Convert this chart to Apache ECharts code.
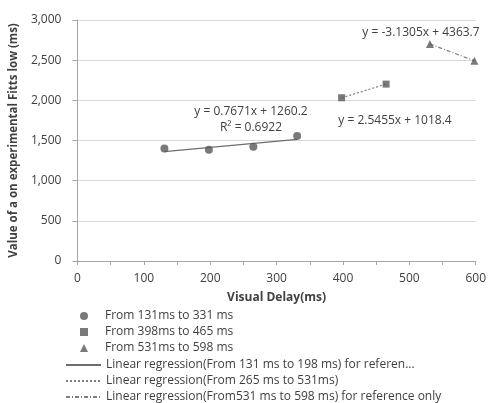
<!DOCTYPE html>
<html><head><meta charset="utf-8">
<script src="https://cdn.jsdelivr.net/npm/echarts@6/dist/echarts.min.js"></script>
<style>html,body{margin:0;padding:0;background:#fff}#c{width:489px;height:403px}</style>
</head><body><div id="c"></div>
<script>
// Data
const circlesX = [131, 198, 265, 331];
const circlesY = [1400, 1385, 1423, 1556];
const squaresX = [398, 465];
const squaresY = [2032, 2202];
const trianglesX = [531, 598];
const trianglesY = [2701, 2492];
// regression line end points
const reg1X = [131, 331];
const reg1Y = [1360.7, 1514.1];
const reg2X = [398, 465];
const reg2Y = [2031.5, 2202.1];
const reg3X = [531, 598];
const reg3Y = [2701.4, 2491.7];
const seriesNames = [
  'From 131ms to 331 ms',
  'From 398ms to 465 ms',
  'From 531ms to 598 ms',
  'Linear regression(From 131 ms to 198 ms) for referen...',
  'Linear regression(From 265 ms to 531ms)',
  'Linear regression(From531 ms to 598 ms) for reference only'
];
const eqTexts = ['y = 0.7671x + 1260.2', 'R² = 0.6922', 'y = 2.5455x + 1018.4', 'y = -3.1305x + 4363.7'];

const zip = (xs, ys) => xs.map((x, i) => [x, ys[i]]);
const FONT = 'Open Sans';
const TXT = '#404040';
const MARK = '#595959';

const chart = echarts.init(document.getElementById('c'));
chart.setOption({
  animation: false,
  textStyle: { fontFamily: FONT },
  grid: { left: 77, right: 9, top: 20, bottom: 142 },
  xAxis: {
    type: 'value', min: 0, max: 600, interval: 100,
    name: 'Visual Delay(ms)', nameLocation: 'middle', nameGap: 31,
    nameTextStyle: { fontFamily: FONT, fontWeight: 'bold', fontSize: 12, color: TXT },
    axisLine: { show: true, lineStyle: { color: '#a6a6a6' } },
    axisTick: { show: true, length: 4, lineStyle: { color: '#a6a6a6' } },
    minorTick: { show: true, splitNumber: 2, length: 4, lineStyle: { color: '#a6a6a6' } },
    axisLabel: { fontFamily: FONT, fontSize: 12, color: TXT, margin: 12 },
    splitLine: { show: false }
  },
  yAxis: {
    type: 'value', min: 0, max: 3000, interval: 500,
    name: 'Value of a on experimental Fitts low (ms)', nameLocation: 'middle', nameGap: 56,
    nameTextStyle: { fontFamily: FONT, fontWeight: 'bold', fontSize: 11.5, color: TXT },
    axisLine: { show: true, lineStyle: { color: '#a6a6a6' } },
    axisTick: { show: true, length: 5, lineStyle: { color: '#a6a6a6' } },
    axisLabel: { fontFamily: FONT, fontSize: 12, color: TXT, margin: 16,
      formatter: v => v.toLocaleString('en-US') },
    splitLine: { show: true, lineStyle: { color: '#d9d9d9' } }
  },
  legend: [
    {
      orient: 'vertical', left: 80, top: 310, padding: 0,
      itemWidth: 8, itemHeight: 8, itemGap: 4,
      textStyle: { fontFamily: FONT, fontSize: 12, color: TXT, padding: [0, 0, 0, 12] },
      data: seriesNames.slice(0, 3)
    },
    {
      orient: 'vertical', left: 65, top: 359, padding: 0, height: 50,
      itemWidth: 35, itemHeight: 8, itemGap: 4,
      itemStyle: { opacity: 0, borderWidth: 0 },
      textStyle: { fontFamily: FONT, fontSize: 12, color: TXT },
      data: seriesNames.slice(3)
    }
  ],
  series: [
    { name: seriesNames[0], type: 'scatter', symbol: 'circle', symbolSize: 8,
      itemStyle: { color: MARK }, data: zip(circlesX, circlesY), z: 5 },
    { name: seriesNames[1], type: 'scatter', symbol: 'rect', symbolSize: 7,
      itemStyle: { color: MARK }, data: zip(squaresX, squaresY), z: 5 },
    { name: seriesNames[2], type: 'scatter', symbol: 'triangle', symbolSize: 8,
      itemStyle: { color: MARK }, data: zip(trianglesX, trianglesY), z: 5 },
    { name: seriesNames[3], type: 'line', symbol: 'none', data: zip(reg1X, reg1Y),
      lineStyle: { color: '#6e6e6e', width: 1.2, type: 'solid' }, itemStyle: { color: '#6e6e6e' } },
    { name: seriesNames[4], type: 'line', symbol: 'none', data: zip(reg2X, reg2Y),
      lineStyle: { color: '#7f7f7f', width: 1.2, type: [2, 2] }, itemStyle: { color: '#7f7f7f' } },
    { name: seriesNames[5], type: 'line', symbol: 'none', data: zip(reg3X, reg3Y),
      lineStyle: { color: '#7f7f7f', width: 1.2, type: [4, 2, 1, 2] }, itemStyle: { color: '#7f7f7f' } }
  ],
  graphic: [
    { type: 'text', x: 251, y: 112, style: { text: eqTexts[0], align: 'center', verticalAlign: 'middle', font: '12px "Open Sans"', fill: TXT } },
    { type: 'text', x: 251, y: 128, style: { text: eqTexts[1], align: 'center', verticalAlign: 'middle', font: '12px "Open Sans"', fill: TXT } },
    { type: 'text', x: 395, y: 121, style: { text: eqTexts[2], align: 'center', verticalAlign: 'middle', font: '12px "Open Sans"', fill: TXT } },
    { type: 'text', x: 421, y: 33, style: { text: eqTexts[3], align: 'center', verticalAlign: 'middle', font: '12px "Open Sans"', fill: TXT } }
  ]
});
</script></body></html>
